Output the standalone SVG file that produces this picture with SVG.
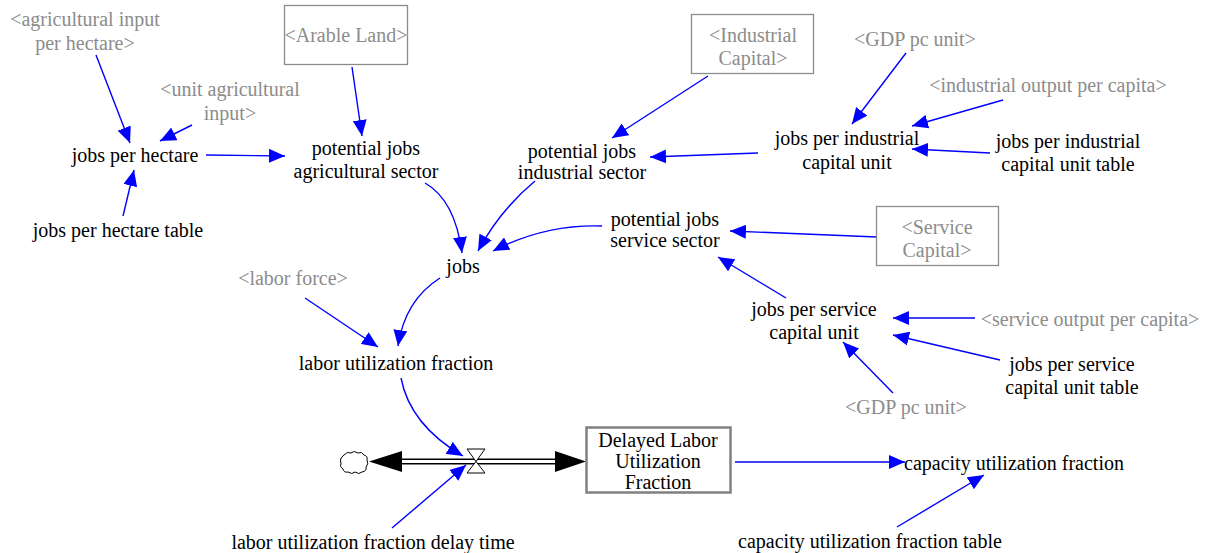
<svg xmlns="http://www.w3.org/2000/svg" width="1210" height="553" viewBox="0 0 1210 553">
<style>
text{font-family:'Liberation Serif',Tinos,'Times New Roman',Times,'Nimbus Roman','DejaVu Serif',serif;font-size:20px;text-anchor:middle;fill:#000}
.g{fill:#8c8c8c}
.sh{fill:none;stroke:#8c8c8c;stroke-width:1.3}
.c{fill:none;stroke:#0000ff;stroke-width:1.4;marker-end:url(#ah)}
</style>
<defs>
<marker id="ah" markerUnits="userSpaceOnUse" markerWidth="18" markerHeight="14" refX="16" refY="7" orient="auto">
<path d="M0,0 L16,7 L0,14 Z" fill="#0000ff"/>
</marker>
</defs>
<g id="connectors">
<path class="c" d="M96,55 L130,143"/>
<path class="c" d="M192,125 L160,141"/>
<path class="c" d="M123,216 L134,170"/>
<path class="c" d="M206,155 L285,156"/>
<path class="c" d="M352,67 L362,136"/>
<path class="c" d="M425,183 Q455,200 462,253"/>
<path class="c" d="M535,181 Q500,210 478,251"/>
<path class="c" d="M602,226 Q545,224 493,251"/>
<path class="c" d="M708,76 L612,138"/>
<path class="c" d="M758,153 L650,157"/>
<path class="c" d="M906,53 L852,124"/>
<path class="c" d="M1003,100 L912,126"/>
<path class="c" d="M990,153 L912,149"/>
<path class="c" d="M877,237 L730,231"/>
<path class="c" d="M786,298 L718,257"/>
<path class="c" d="M975,318 L893,318"/>
<path class="c" d="M1000,360 L893,335"/>
<path class="c" d="M893,393 L843,342"/>
<path class="c" d="M440,278 Q405,300 398,346"/>
<path class="c" d="M305,298 L378,347"/>
<path class="c" d="M401,378 Q410,425 463,456"/>
<path class="c" d="M392,528 L466,465"/>
<path class="c" d="M735,462 L905,462"/>
<path class="c" d="M897,527 L984,475"/>
</g>
<g id="flow">
<line x1="400" y1="461.5" x2="557" y2="461.5" stroke="#000" stroke-width="6"/>
<line x1="400" y1="461.5" x2="557" y2="461.5" stroke="#fff" stroke-width="3"/>
<path d="M369,461.5 L402,451 L402,472 Z" fill="#000"/>
<path d="M586,461.5 L555,451 L555,472 Z" fill="#000"/>
<path d="M467,449 L485,449 L476,461.5 L485,473 L467,473 L476,461.5 Z" fill="#fff" stroke="#000" stroke-width="1"/>
</g>
<g id="cloud">
<path d="M344,455 q3,-4 7,-2 q3,-3 7,0 q4,-2 6,2 q4,1 3,5 q2,4 -1,7 q1,4 -4,5 q-3,3 -7,0 q-3,3 -7,0 q-4,1 -5,-3 q-4,-2 -2,-6 q-2,-4 3,-8 Z" fill="#fff" stroke="#000" stroke-width="1"/>
</g>
<g id="agricultural-input-per-hectare"><text class="g" x="85" y="26">&lt;agricultural input</text><text class="g" x="85" y="50">per hectare&gt;</text></g>
<g id="arable-land"><rect class="sh" x="284.5" y="5.5" width="123" height="59"/><text class="g" x="346" y="42">&lt;Arable Land&gt;</text></g>
<g id="unit-agricultural-input"><text class="g" x="230" y="96">&lt;unit agricultural</text><text class="g" x="230" y="120">input&gt;</text></g>
<g id="jobs-per-hectare"><text x="135" y="162">jobs per hectare</text></g>
<g id="jobs-per-hectare-table"><text x="118" y="237">jobs per hectare table</text></g>
<g id="potential-jobs-agricultural-sector"><text x="366" y="155">potential jobs</text><text x="366" y="178">agricultural sector</text></g>
<g id="industrial-capital"><rect class="sh" x="691.5" y="14.5" width="122" height="59"/><text class="g" x="753" y="42">&lt;Industrial</text><text class="g" x="753" y="65">Capital&gt;</text></g>
<g id="gdp-pc-unit-1"><text class="g" x="915" y="46">&lt;GDP pc unit&gt;</text></g>
<g id="industrial-output-per-capita"><text class="g" x="1048" y="92">&lt;industrial output per capita&gt;</text></g>
<g id="jobs-per-industrial-capital-unit"><text x="847" y="145">jobs per industrial</text><text x="847" y="169">capital unit</text></g>
<g id="jobs-per-industrial-capital-unit-table"><text x="1068" y="148">jobs per industrial</text><text x="1068" y="171">capital unit table</text></g>
<g id="potential-jobs-industrial-sector"><text x="582" y="158">potential jobs</text><text x="582" y="179">industrial sector</text></g>
<g id="potential-jobs-service-sector"><text x="665" y="226">potential jobs</text><text x="665" y="247">service sector</text></g>
<g id="service-capital"><rect class="sh" x="876.5" y="206.5" width="122" height="59"/><text class="g" x="937" y="234">&lt;Service</text><text class="g" x="937" y="257">Capital&gt;</text></g>
<g id="jobs"><text x="463" y="273">jobs</text></g>
<g id="labor-force"><text class="g" x="293" y="285">&lt;labor force&gt;</text></g>
<g id="labor-utilization-fraction"><text x="396" y="370">labor utilization fraction</text></g>
<g id="jobs-per-service-capital-unit"><text x="814" y="316">jobs per service</text><text x="814" y="339">capital unit</text></g>
<g id="service-output-per-capita"><text class="g" x="1090" y="326">&lt;service output per capita&gt;</text></g>
<g id="jobs-per-service-capital-unit-table"><text x="1072" y="371">jobs per service</text><text x="1072" y="394">capital unit table</text></g>
<g id="gdp-pc-unit-2"><text class="g" x="906" y="414">&lt;GDP pc unit&gt;</text></g>
<g id="delayed-labor-utilization-fraction"><rect x="586.5" y="427.5" width="144" height="65" fill="#fff" stroke="#808080" stroke-width="2.5"/><text x="658" y="447">Delayed Labor</text><text x="658" y="468">Utilization</text><text x="658" y="489">Fraction</text></g>
<g id="capacity-utilization-fraction"><text x="1014" y="470">capacity utilization fraction</text></g>
<g id="capacity-utilization-fraction-table"><text x="870" y="548">capacity utilization fraction table</text></g>
<g id="labor-utilization-fraction-delay-time"><text x="373" y="549">labor utilization fraction delay time</text></g>
</svg>
